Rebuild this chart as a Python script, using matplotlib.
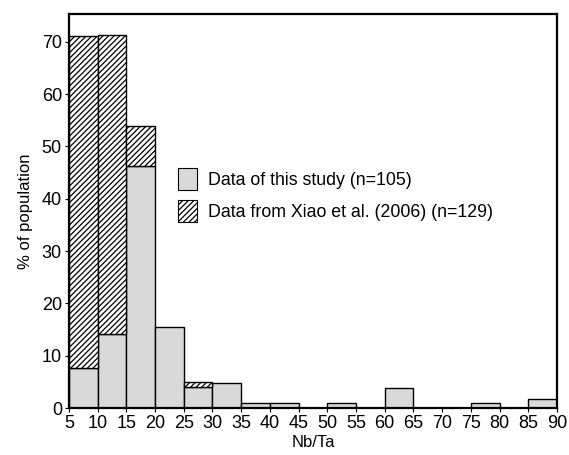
import numpy as np
import matplotlib
matplotlib.use("Agg")
import matplotlib.pyplot as plt
from matplotlib.patches import Patch

plt.rcParams['font.family'] = ['Liberation Sans', 'DejaVu Sans']
plt.rcParams['hatch.linewidth'] = 0.9

# bins of Nb/Ta, 5 wide
bin_left = [5, 10, 15, 20, 25, 30, 35, 40, 45, 50, 55, 60, 65, 70, 75, 80, 85]
# % of population, this study (grey)
this_study = [7.7, 14.1, 46.3, 15.5, 4.0, 4.8, 0.9, 0.9, 0, 0.9, 0, 3.9, 0, 0, 0.9, 0, 1.8]
# % of population, Xiao et al. (2006) (hatched, stacked on top)
xiao = [63.5, 57.2, 7.6, 0, 0.9, 0, 0, 0, 0, 0, 0, 0, 0, 0, 0, 0, 0]
xticks = list(range(5, 95, 5))

fig = plt.figure(figsize=(5.69, 4.55), dpi=100)
ax = fig.add_axes([0.121, 0.103, 0.858, 0.866])

grey = '#d9d9d9'
ax.bar(bin_left, this_study, width=5, align='edge', color=grey,
       edgecolor='black', linewidth=1.0)
xl = [l for l, v in zip(bin_left, xiao) if v > 0]
xb = [s for s, v in zip(this_study, xiao) if v > 0]
xv = [v for v in xiao if v > 0]
ax.bar(xl, xv, bottom=xb, width=5, align='edge', color='white',
       edgecolor='black', linewidth=1.0, hatch='//////')

ax.set_xlim(5, 90)
ax.set_ylim(0, 75.3)
ax.set_xticks(xticks)
ax.set_yticks(range(0, 80, 10))
ax.tick_params(direction='out', length=3, width=0.8, labelsize=13, pad=2)
for s in ax.spines.values():
    s.set_linewidth(1.6)

ax.set_xlabel('Nb/Ta', fontsize=12, labelpad=2)
ax.set_ylabel('% of population', fontsize=12, labelpad=6)

handles = [Patch(facecolor=grey, edgecolor='black', linewidth=0.8),
           Patch(facecolor='white', edgecolor='black', linewidth=0.8, hatch='//////')]
labels = ['Data of this study (n=105)', 'Data from Xiao et al. (2006) (n=129)']
ax.legend(handles, labels, loc='upper left', bbox_to_anchor=(0.19, 0.65),
          frameon=False, fontsize=12.8, handlelength=1.1, handleheight=1.5,
          handletextpad=0.6, labelspacing=0.6)

fig.savefig('out.png', dpi=100)
